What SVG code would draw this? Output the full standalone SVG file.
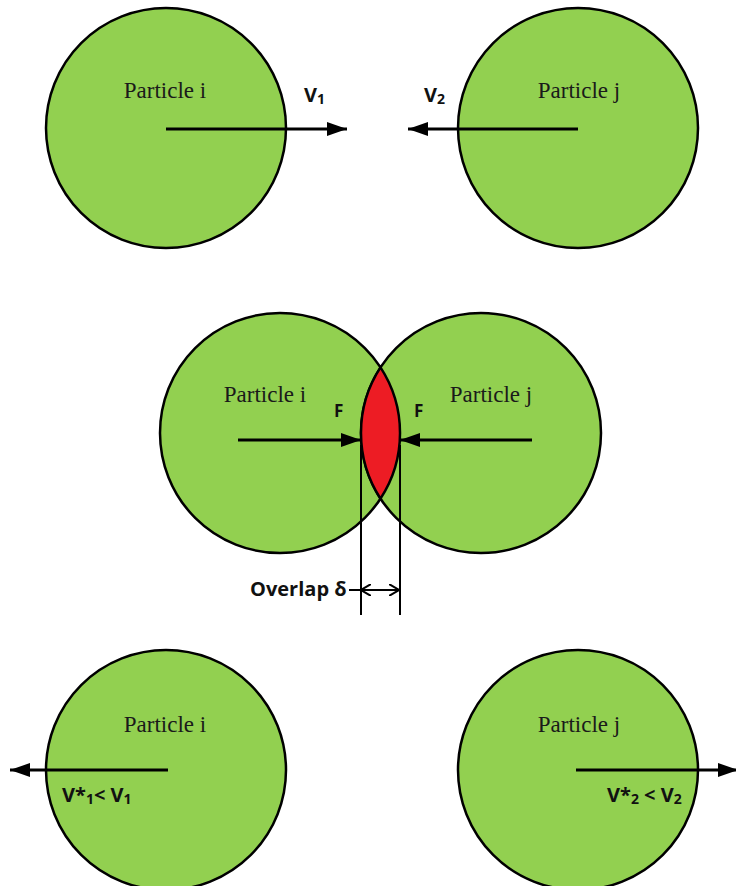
<svg xmlns="http://www.w3.org/2000/svg" width="736" height="886" viewBox="0 0 736 886">
  <style>
    .p { fill: #92D050; stroke: #000; stroke-width: 2.5; }
    .name { font-family: "Liberation Serif", serif; font-size: 23px; fill: #1a1a1a; text-anchor: middle; }
    .lbl { font-family: "Open Sans", "Liberation Sans", sans-serif; font-weight: bold; font-size: 20px; fill: #111; }
    .f { font-size: 17px; }
    .sub { font-size: 14px; }
    .arr { stroke: #000; stroke-width: 3; fill: none; }
    .thin { stroke: #000; stroke-width: 2; fill: none; }
  </style>
  <defs>
    <marker id="bigHead" viewBox="0 0 20 14" refX="20" refY="7" markerWidth="20" markerHeight="14" orient="auto" markerUnits="userSpaceOnUse">
      <path d="M0,0 L20,7 L0,14 Z" fill="#000"/>
    </marker>
    <marker id="openHead" viewBox="0 0 10 12" refX="10" refY="6" markerWidth="10" markerHeight="12" orient="auto" markerUnits="userSpaceOnUse">
      <path d="M0,0 L10,6 L0,12" fill="none" stroke="#000" stroke-width="2"/>
    </marker>
  </defs>

  <!-- before contact -->
  <g id="top-particle-i">
    <circle class="p" cx="166" cy="128" r="120"/>
    <text class="name" x="165" y="98">Particle i</text>
  </g>
  <g id="top-particle-j">
    <circle class="p" cx="578" cy="128" r="120"/>
    <text class="name" x="579" y="98">Particle j</text>
  </g>

  <!-- contact -->
  <g id="mid-particle-i">
    <circle class="p" cx="280" cy="433" r="120"/>
    <text class="name" x="265" y="402">Particle i</text>
  </g>
  <g id="mid-particle-j">
    <circle class="p" cx="481" cy="433" r="120"/>
    <text class="name" x="491" y="402">Particle j</text>
  </g>
  <g id="overlap-zone">
    <path d="M380.5,367.4 A120,120 0 0,0 380.5,498.6 A120,120 0 0,0 380.5,367.4 Z" fill="#ED1C24" stroke="#000" stroke-width="2.5"/>
  </g>

  <!-- after contact -->
  <g id="bot-particle-i">
    <circle class="p" cx="166" cy="770" r="120"/>
    <text class="name" x="165" y="732">Particle i</text>
  </g>
  <g id="bot-particle-j">
    <circle class="p" cx="578" cy="770" r="120"/>
    <text class="name" x="579" y="732">Particle j</text>
  </g>

  <g id="connectors">
    <!-- approach velocities -->
    <line class="arr" x1="166" y1="129" x2="347" y2="129" marker-end="url(#bigHead)"/>
    <line class="arr" x1="578" y1="129" x2="408" y2="129" marker-end="url(#bigHead)"/>
    <!-- contact forces -->
    <line class="arr" x1="238" y1="440" x2="361" y2="440" marker-end="url(#bigHead)"/>
    <line class="arr" x1="532" y1="440" x2="400" y2="440" marker-end="url(#bigHead)"/>
    <!-- overlap extension lines -->
    <line class="thin" x1="361" y1="445" x2="361" y2="615"/>
    <line class="thin" x1="400" y1="445" x2="400" y2="615"/>
    <line class="thin" x1="349" y1="590" x2="361" y2="590"/>
    <line class="thin" x1="380" y1="590" x2="361" y2="590" marker-end="url(#openHead)"/>
    <line class="thin" x1="380" y1="590" x2="399" y2="590" marker-end="url(#openHead)"/>
    <!-- rebound velocities -->
    <line class="arr" x1="168" y1="770" x2="10" y2="770" marker-end="url(#bigHead)"/>
    <line class="arr" x1="576" y1="770" x2="738" y2="770" marker-end="url(#bigHead)"/>
  </g>

  <g id="labels">
    <text class="lbl" x="304" y="102">V<tspan class="sub" dy="2">1</tspan></text>
    <text class="lbl" x="424" y="102">V<tspan class="sub" dy="2">2</tspan></text>
    <text class="lbl f" x="334" y="417">F</text>
    <text class="lbl f" x="414" y="417">F</text>
    <text class="lbl" x="250" y="596">Overlap δ</text>
    <text class="lbl" x="62" y="802">V*<tspan class="sub" dy="2">1</tspan><tspan dy="-2">&lt; V</tspan><tspan class="sub" dy="2">1</tspan></text>
    <text class="lbl" x="607" y="802">V*<tspan class="sub" dy="2">2</tspan><tspan dy="-2"> &lt; V</tspan><tspan class="sub" dy="2">2</tspan></text>
  </g>
</svg>
